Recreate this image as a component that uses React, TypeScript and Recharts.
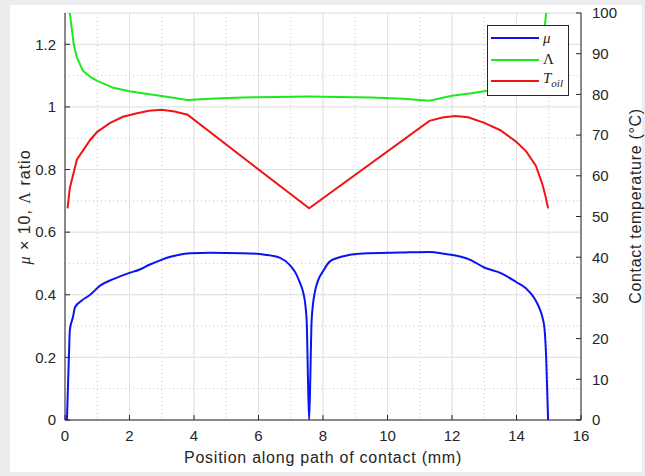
import { ComposedChart, Line, XAxis, YAxis, CartesianGrid, Legend } from 'recharts';

// mu x 10 along the path of contact
const muX = [0.06, 0.12, 0.15, 0.25, 0.31, 0.5, 0.78, 1.1, 1.5, 2.0, 2.3, 2.6, 2.95, 3.3, 3.9, 4.5, 5.5, 6.2, 6.67, 6.98, 7.15, 7.29, 7.38, 7.45, 7.5, 7.53, 7.57, 7.61, 7.64, 7.69, 7.75, 7.85, 8.0, 8.2, 8.6, 9.24, 10.4, 11.3, 11.8, 12.25, 12.6, 13.0, 13.5, 14.0, 14.3, 14.55, 14.7, 14.8, 14.87, 14.92, 14.98];
const muY = [0, 0.2, 0.287, 0.33, 0.36, 0.38, 0.4, 0.43, 0.45, 0.47, 0.48, 0.495, 0.51, 0.522, 0.533, 0.534, 0.533, 0.528, 0.518, 0.494, 0.47, 0.437, 0.41, 0.37, 0.3, 0.15, 0, 0.15, 0.3, 0.37, 0.41, 0.447, 0.475, 0.505, 0.522, 0.532, 0.535, 0.537, 0.53, 0.522, 0.51, 0.487, 0.47, 0.44, 0.42, 0.39, 0.36, 0.33, 0.29, 0.2, 0];

// Lambda ratio
const lamX = [0.1, 0.15, 0.27, 0.37, 0.56, 0.8, 1.0, 1.5, 2.0, 2.5, 3.0, 3.8, 4.5, 5.5, 6.5, 7.57, 8.5, 9.5, 10.5, 11.3, 12.0, 12.6, 13.1, 13.5, 14.0, 14.35, 14.6, 14.78, 14.88, 14.95, 15.0];
const lamY = [1.42, 1.3, 1.2, 1.157, 1.115, 1.095, 1.083, 1.061, 1.05, 1.042, 1.035, 1.022, 1.026, 1.03, 1.032, 1.033, 1.032, 1.03, 1.026, 1.02, 1.036, 1.044, 1.052, 1.06, 1.083, 1.11, 1.15, 1.2, 1.26, 1.33, 1.42];

// oil temperature (right axis)
const tX = [0.08, 0.15, 0.37, 0.78, 1.0, 1.4, 1.8, 2.2, 2.6, 3.0, 3.4, 3.8, 7.57, 11.3, 11.7, 12.1, 12.5, 13.0, 13.5, 14.0, 14.3, 14.6, 14.8, 14.9, 14.98];
const tY = [52, 57, 64, 68.8, 70.8, 73, 74.5, 75.3, 76, 76.2, 75.8, 75, 52, 73.5, 74.3, 74.7, 74.4, 73, 71.2, 68.3, 66, 62.5, 58, 55, 52];

const xTicks = [0, 2, 4, 6, 8, 10, 12, 14, 16];
const leftTicks = [0, 0.2, 0.4, 0.6, 0.8, 1, 1.2];
const rightTicks = [0, 10, 20, 30, 40, 50, 60, 70, 80, 90, 100];
const xMinor = [0, 0.5, 1, 1.5, 2, 2.5, 3, 3.5, 4, 4.5, 5, 5.5, 6, 6.5, 7, 7.5, 8, 8.5, 9, 9.5, 10, 10.5, 11, 11.5, 12, 12.5, 13, 13.5, 14, 14.5, 15, 15.5, 16];
const yMinor = [0, 0.05, 0.1, 0.15, 0.2, 0.25, 0.3, 0.35, 0.4, 0.45, 0.5, 0.55, 0.6, 0.65, 0.7, 0.75, 0.8, 0.85, 0.9, 0.95, 1, 1.05, 1.1, 1.15, 1.2, 1.25, 1.3];
const legendOrder = ['μ', 'Λ', 'T_oil'];

const toRows = (xs: number[], ys: number[]) => xs.map((x, i) => ({ x, y: ys[i] }));

const INK = '#262626';
const tickStyle = { fill: INK, fontSize: 15 };

const LeftLabel = () => (
  <text x={30} y={207} transform="rotate(-90, 30, 207)" textAnchor="middle" fill={INK} fontSize={16} letterSpacing={1}>
    <tspan fontStyle="italic" fontFamily="Liberation Serif">μ</tspan>
    <tspan> × 10, </tspan>
    <tspan fontFamily="Liberation Serif">Λ</tspan>
    <tspan> ratio</tspan>
  </text>
);

const RightLabel = () => (
  <text x={641} y={206} transform="rotate(-90, 641, 206)" textAnchor="middle" fill={INK} fontSize={16} letterSpacing={0.7}>
    Contact temperature (°C)
  </text>
);

const legendLabel = (name: string) => {
  if (name === 'T_oil')
    return (
      <span style={{ fontStyle: 'italic' }}>
        T<sub style={{ fontSize: 11 }}>oil</sub>
      </span>
    );
  if (name === 'μ') return <span style={{ fontStyle: 'italic' }}>μ</span>;
  return <span>{name}</span>;
};

const LegendBox = ({ payload }: any) => {
  const items = [...(payload || [])].sort(
    (a: any, b: any) => legendOrder.indexOf(a.value) - legendOrder.indexOf(b.value)
  );
  return (
    <div
      style={{
        width: 80,
        height: 67,
        border: `1px solid ${INK}`,
        background: '#fff',
        paddingTop: 1.5,
        boxSizing: 'content-box',
        fontFamily: 'Liberation Serif',
        fontSize: 15,
        color: INK,
      }}
    >
      {items.map((p: any) => (
        <div key={p.value} style={{ display: 'flex', alignItems: 'center', height: 21.5 }}>
          <span style={{ display: 'inline-block', width: 48, height: 2, background: p.color, marginLeft: 3 }} />
          <span style={{ marginLeft: 4, lineHeight: '15px' }}>{legendLabel(p.value)}</span>
        </div>
      ))}
    </div>
  );
};

export default function App() {
  return (
    <div style={{ position: 'absolute', left: 0, top: 0, width: 645, height: 476, background: '#ececec' }}>
      <div style={{ position: 'absolute', left: 10, top: 5, width: 632, height: 467, background: '#fff' }} />
      <div style={{ position: 'absolute', left: 0, top: 0, fontFamily: 'Liberation Sans, Arial, sans-serif' }}>
        <ComposedChart width={645} height={476} margin={{ top: 13, right: 0, bottom: 0, left: 0 }}>
          <XAxis xAxisId="minor" type="number" dataKey="x" domain={[0, 16]} ticks={xMinor} hide allowDataOverflow />
          <YAxis yAxisId="minor" type="number" domain={[0, 1.3]} ticks={yMinor} hide allowDataOverflow />
          <CartesianGrid xAxisId="minor" yAxisId="minor" stroke="#c4c4c4" strokeDasharray="1 3" />
          <CartesianGrid xAxisId="main" yAxisId="left" stroke="#e2e2e2" />
          <XAxis
            xAxisId="main"
            type="number"
            dataKey="x"
            domain={[0, 16]}
            ticks={xTicks}
            allowDataOverflow
            height={56}
            tickSize={-5}
            tickMargin={15}
            tick={tickStyle}
            axisLine={{ stroke: INK }}
            tickLine={{ stroke: INK }}
            label={{
              value: 'Position along path of contact (mm)',
              position: 'insideBottom',
              offset: 13,
              fill: INK,
              fontSize: 16,
              letterSpacing: 0.75,
            }}
          />
          <XAxis
            xAxisId="top"
            orientation="top"
            type="number"
            dataKey="x"
            domain={[0, 16]}
            ticks={xTicks}
            height={0}
            tickSize={-5}
            tickFormatter={() => ''}
            axisLine={{ stroke: INK }}
            tickLine={{ stroke: INK }}
          />
          <YAxis
            yAxisId="left"
            type="number"
            domain={[0, 1.3]}
            ticks={leftTicks}
            allowDataOverflow
            width={65}
            tickSize={-5}
            tickMargin={14}
            tick={tickStyle}
            axisLine={{ stroke: INK }}
            tickLine={{ stroke: INK }}
            label={<LeftLabel />}
          />
          <YAxis
            yAxisId="right"
            orientation="right"
            type="number"
            domain={[0, 100]}
            ticks={rightTicks}
            allowDataOverflow
            width={64}
            tickSize={-5}
            tickMargin={16}
            tick={tickStyle}
            axisLine={{ stroke: INK }}
            tickLine={{ stroke: INK }}
            label={<RightLabel />}
          />
          <Line xAxisId="main" yAxisId="left" data={toRows(muX, muY)} dataKey="y" name="μ" type="monotone" stroke="#0a14f0" strokeWidth={2} dot={false} isAnimationActive={false} />
          <Line xAxisId="main" yAxisId="left" data={toRows(lamX, lamY)} dataKey="y" name="Λ" type="linear" stroke="#1ee81e" strokeWidth={2} dot={false} isAnimationActive={false} />
          <Line xAxisId="main" yAxisId="right" data={toRows(tX, tY)} dataKey="y" name="T_oil" type="linear" stroke="#f01414" strokeWidth={2} dot={false} isAnimationActive={false} />
          <Legend
            layout="vertical"
            align="center"
            verticalAlign="middle"
            content={<LegendBox />}
            wrapperStyle={{ left: 487, top: 25, width: 82, height: 70 }}
          />
        </ComposedChart>
      </div>
    </div>
  );
}
